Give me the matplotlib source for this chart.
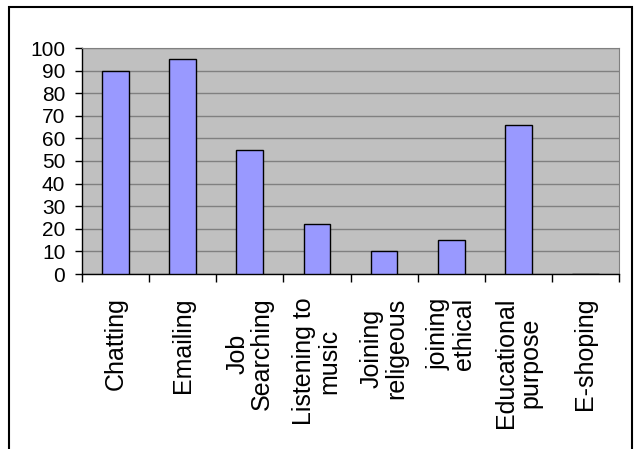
import numpy as np
import matplotlib.pyplot as plt
from matplotlib.patches import Rectangle

# usage categories and percentage values
categories = ['Chatting', 'Emailing', 'Job\nSearching', 'Listening to\nmusic',
              'Joining\nreligeous', 'joining\nethical', 'Educational\npurpose', 'E-shoping']
values = [90, 95, 55, 22, 10, 15, 66, 0]
yticks = list(range(0, 101, 10))

plt.rcParams['font.family'] = ['Liberation Sans', 'DejaVu Sans']

fig = plt.figure(figsize=(6.39, 4.49), dpi=100)
ax = fig.add_axes([82 / 639, 1 - 274 / 449, (619 - 82) / 639, (274 - 48) / 449])

x = np.arange(len(categories))
ax.bar(x, values, width=0.4, color='#9999ff', edgecolor='black', linewidth=1, zorder=3)

ax.set_facecolor('#c0c0c0')
ax.set_xlim(-0.5, len(categories) - 0.5)
ax.set_ylim(0, 100)
ax.set_yticks(yticks)
ax.yaxis.grid(True, color='#808080', linewidth=1, zorder=1)
ax.set_axisbelow(True)

# ticks sit on the category boundaries, labels at the centres
ax.set_xticks(np.arange(len(categories) + 1) - 0.5)
ax.set_xticklabels([])
ax.set_xticks(x, minor=True)
ax.set_xticklabels(categories, minor=True, rotation=90, va='top', ha='center',
                   multialignment='center', fontsize=18, linespacing=1.05)
ax.tick_params(axis='x', which='minor', length=0, pad=17)
ax.tick_params(axis='x', which='major', length=6, width=1, color='black')
ax.tick_params(axis='y', length=5, width=1, pad=7, labelsize=15)

for s in ['top', 'right']:
    ax.spines[s].set_color('#808080')
for s in ['left', 'bottom']:
    ax.spines[s].set_color('black')
    ax.spines[s].set_linewidth(1)

# outer chart border
fig.patches.append(Rectangle((9 / 639, -0.05), (632 - 9) / 639, 1.05 - 7 / 449,
                             transform=fig.transFigure, fill=False,
                             edgecolor='black', linewidth=1.5))

fig.savefig('out.png', dpi=100)
